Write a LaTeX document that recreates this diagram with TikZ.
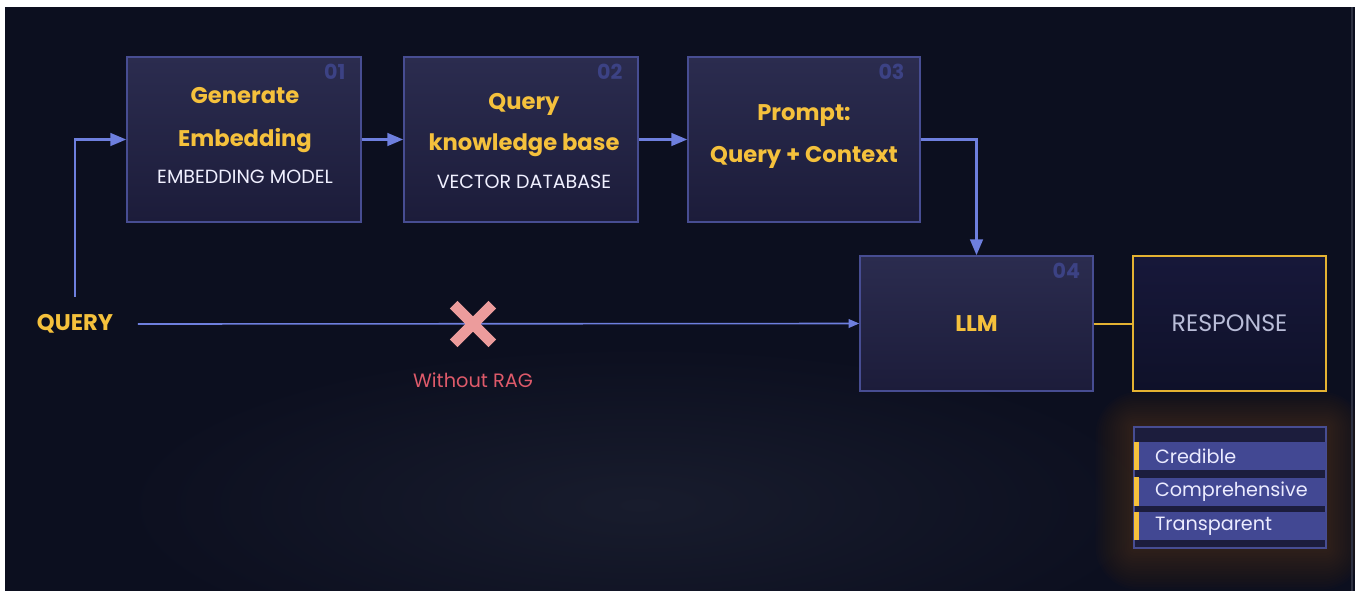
\documentclass[tikz,border=0pt]{standalone}
\usepackage{fontspec}
\setmainfont{Poppins}
\usepackage{tikz}
\usetikzlibrary{arrows.meta,shapes.misc}

\definecolor{bgdark}{HTML}{0C0F1F}
\definecolor{bglight}{HTML}{181C2D}
\definecolor{boxtop}{HTML}{2B2C4F}
\definecolor{boxbot}{HTML}{1C1C3A}
\definecolor{boxline}{HTML}{474D92}
\definecolor{gold}{HTML}{F5C13C}
\definecolor{stepnum}{HTML}{3C4284}
\definecolor{flow}{HTML}{6E7FDE}
\definecolor{resptext}{HTML}{B9BDD8}
\definecolor{respline}{HTML}{E4B232}
\definecolor{resptop}{HTML}{17183A}
\definecolor{respbot}{HTML}{0F1129}
\definecolor{norag}{HTML}{DE5A6A}
\definecolor{crossc}{HTML}{EC9C9C}
\definecolor{rowfill}{HTML}{424893}
\definecolor{listfill}{HTML}{1C1D3D}
\definecolor{glowc}{HTML}{A8741A}
\definecolor{edgegray}{HTML}{2E3142}

\begin{document}
\begin{tikzpicture}[x=0.75pt,y=-0.75pt,
    stepbox/.style={draw=boxline, line width=1.1pt, top color=boxtop, bottom color=boxbot,
        minimum width=175.5pt, minimum height=123.75pt, inner sep=0pt},
    title/.style={text=gold, font=\fontsize{17}{20}\selectfont\bfseries, anchor=base},
    subtitle/.style={text=white!94!blue, font=\fontsize{14.3}{17}\selectfont, anchor=base},
    stepno/.style={text=stepnum, font=\fontsize{15.5}{18}\selectfont\bfseries, anchor=north east, inner sep=0pt},
    flowarrow/.style={draw=flow, line width=2pt, -{Triangle[length=12pt,width=9.5pt]}},
    thinarrow/.style={draw=flow, line width=1.2pt, -{Triangle[length=8pt,width=6.5pt]}},
    rowbox/.style={fill=rowfill, minimum height=21pt, text width=112.5pt, inner xsep=15.75pt,
        inner ysep=0pt, align=left, text=white!92!blue, font=\fontsize{14.4}{17}\selectfont},
    barline/.style={draw=gold, line width=3.75pt}]

    % page and background
    \useasboundingbox (0,0) rectangle (1363,590);
    \fill[white] (0,0) rectangle (1363,590);
    \begin{scope}
        \clip (5,7) rectangle (1355,600);
        \fill[bgdark] (5,7) rectangle (1355,600);
        \shade[inner color=bglight, outer color=bgdark] (640,505) ellipse (520 and 160);
        % glow behind the list
        \foreach \g in {1,...,16}
            \fill[glowc, opacity=0.02, rounded corners=2*\g]
                ({1134-2.4*\g},{427-2.2*\g}) rectangle ({1326+2.4*\g},{548+2.6*\g});
    \end{scope}
    \draw[edgegray, line width=1.5pt] (1352,7) -- (1352,600);

    % steps
    \node[stepbox] (embed) at (244,139.5) {};
    \node[stepbox] (kbase) at (521,139.5) {};
    \node[stepbox, minimum width=174pt] (prompt) at (804,139.5) {};
    \node[stepbox, minimum width=174.75pt, minimum height=101.25pt] (llm) at (976.5,323.5) {};

    \node[stepno] (n1) at ([xshift=-12pt,yshift=-6pt]embed.north east) {01};
    \node[stepno] (n2) at ([xshift=-12pt,yshift=-6pt]kbase.north east) {02};
    \node[stepno] (n3) at ([xshift=-12pt,yshift=-6pt]prompt.north east) {03};
    \node[stepno] (n4) at ([xshift=-10pt,yshift=-6pt]llm.north east) {04};

    \node[title] (gen) at (245,103) {Generate};
    \node[title] (emb) at (245,146) {Embedding};
    \node[subtitle] (model) at (245,183) {EMBEDDING MODEL};

    \node[title] (qry) at (524,109) {Query};
    \node[title] (know) at (524,150) {knowledge base};
    \node[subtitle] (vdb) at (524,188) {VECTOR DATABASE};

    \node[title] (pr) at (804,120) {Prompt:};
    \node[title] (ctx) at (804,162) {Query + Context};

    \node[text=gold, font=\fontsize{17}{20}\selectfont\bfseries] (llmtext) at (llm.center) {LLM};

    % response
    \node[draw=respline, line width=1.1pt, top color=resptop, bottom color=respbot,
        minimum width=144.75pt, minimum height=101.25pt, text=resptext,
        font=\fontsize{17.8}{20}\selectfont] (resp) at (1229.5,323.5) {RESPONSE};

    % properties
    \node[draw=boxline, line width=0.8pt, fill=listfill, minimum width=144pt,
        minimum height=90.75pt, inner sep=0pt] (props) at (1230,487.5) {};
    \node[rowbox] (cred) at (1230,456) {Credible};
    \node[rowbox] (comp) at (1230,491.5) {Comprehensive};
    \node[rowbox] (trans) at (1230,526) {Transparent};
    \draw[barline] ([xshift=1.9pt]cred.north west) -- ([xshift=1.9pt]cred.south west);
    \draw[barline] ([xshift=1.9pt]comp.north west) -- ([xshift=1.9pt]comp.south west);
    \draw[barline] ([xshift=1.9pt]trans.north west) -- ([xshift=1.9pt]trans.south west);

    % query
    \node[text=gold, font=\fontsize{17}{20}\selectfont\bfseries] (query) at (75,324) {QUERY};

    \draw[flowarrow] ([yshift=10pt]query.north) |- (embed.west);
    \draw[flowarrow] (embed.east) -- (kbase.west);
    \draw[flowarrow] (kbase.east) -- (prompt.west);
    \draw[flowarrow] (prompt.east) -| (llm.north);

    \draw[thinarrow] ([xshift=15pt]query.east) -- (llm.west);
    \node[cross out, draw=crossc, line width=8pt, minimum size=21pt, inner sep=0pt] (cross) at (473,324) {};
    \node[text=norag, font=\fontsize{14.5}{17}\selectfont] (without) at (473,380) {Without RAG};

    \draw[draw=respline, line width=1.5pt] (llm.east) -- (resp.west);
\end{tikzpicture}
\end{document}
